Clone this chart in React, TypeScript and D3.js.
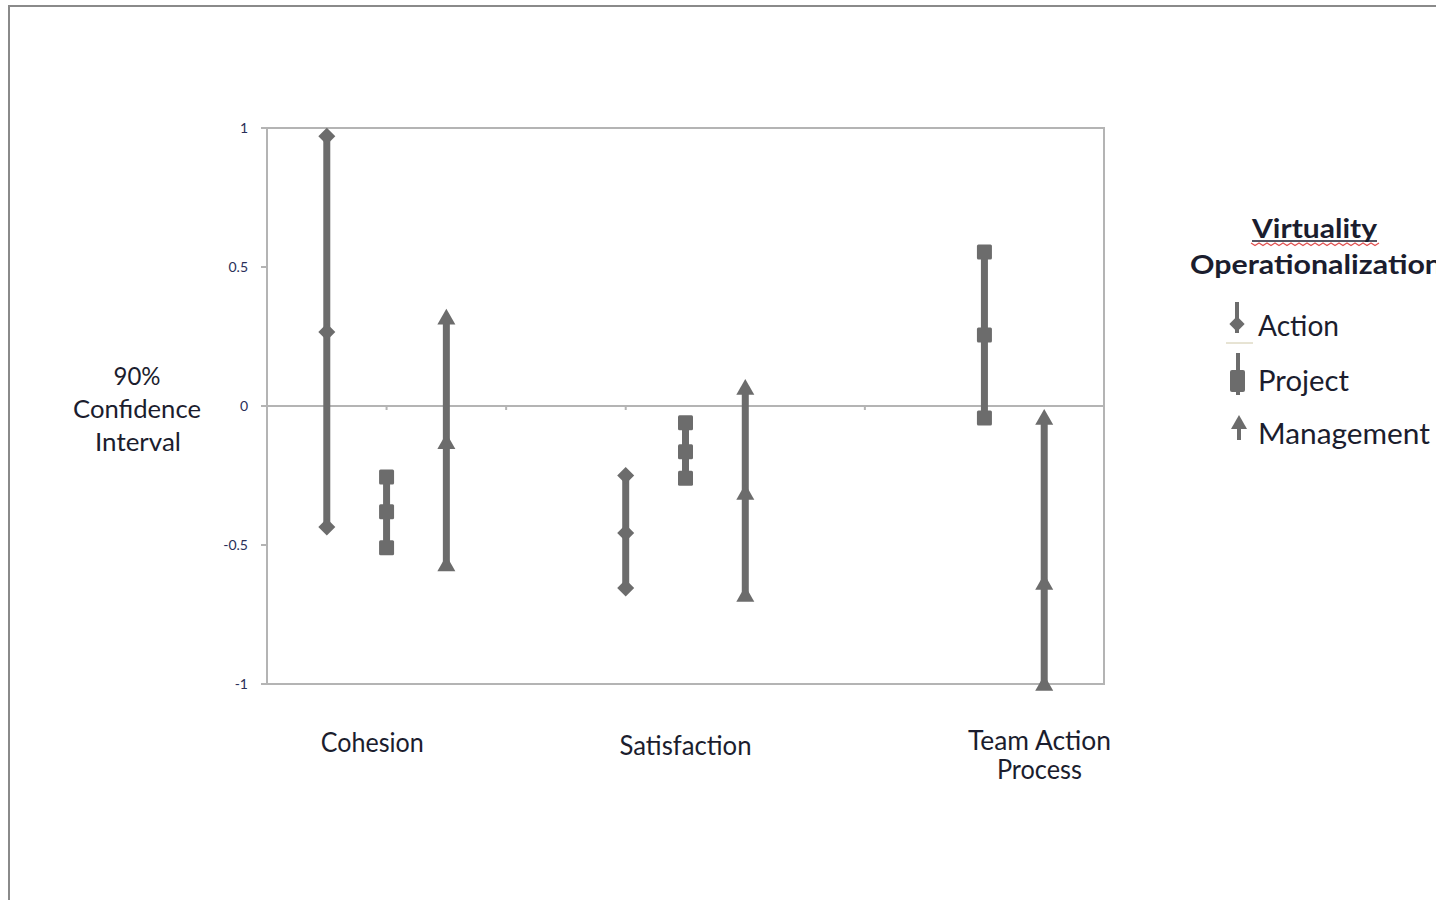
import React from "react";
import * as d3 from "d3";

// Confidence intervals by outcome and virtuality operationalization
const categories = ["Cohesion", "Satisfaction", "Team Action Process"];
const categoryLabelX = [0.88, 3.5, 6.46];
const seriesNames = ["Action", "Project", "Management"];

const actionX = [0.5, 3.0];
const actionLow = [-0.435, -0.655];
const actionMid = [0.266, -0.457];
const actionHigh = [0.97, -0.25];

const projectX = [1.0, 3.5, 6.0];
const projectLow = [-0.51, -0.26, -0.043];
const projectMid = [-0.38, -0.165, 0.255];
const projectHigh = [-0.255, -0.06, 0.554];

const managementX = [1.5, 4.0, 6.5];
const managementLow = [-0.57, -0.68, -1.0];
const managementMid = [-0.13, -0.313, -0.637];
const managementHigh = [0.317, 0.065, -0.043];

const yTicks = [1, 0.5, 0, -0.5, -1];
const yTickLabels = ["1", "0.5", "0", "-0.5", "-1"];
const xTicks = [1, 2, 3, 4, 5, 6];

const W = 1436;
const H = 900;
const plot = { left: 267, right: 1104, top: 128, bottom: 684 };
const markColor = "#6c6c6c";
const textColor = "#1b1d2e";
const font = "Lato, 'Open Sans', sans-serif";

type Shape = "diamond" | "square" | "triangle";

function Marker({ x, y, shape, s = 1 }: { x: number; y: number; shape: Shape; s?: number }) {
  if (shape === "diamond") {
    const r = 8.5 * s;
    return <path d={`M${x},${y - r}L${x + r},${y}L${x},${y + r}L${x - r},${y}Z`} fill={markColor} />;
  }
  if (shape === "square") {
    const r = 7.5 * s;
    return <rect x={x - r} y={y - r} width={2 * r} height={2 * r} rx={1.5} fill={markColor} />;
  }
  const r = 9 * s;
  return <path d={`M${x},${y - r}L${x + r},${y + r * 0.75}L${x - r},${y + r * 0.75}Z`} fill={markColor} />;
}

// Text stretched to a set width
function Label({
  x,
  y,
  w,
  size,
  anchor = "middle",
  bold = false,
  children,
}: {
  x: number;
  y: number;
  w: number;
  size: number;
  anchor?: "start" | "middle" | "end";
  bold?: boolean;
  children: string;
}) {
  return (
    <text
      x={x}
      y={y}
      textAnchor={anchor}
      fontFamily={font}
      fontSize={size}
      fontWeight={bold ? "bold" : "normal"}
      fill={textColor}
      textLength={w}
      lengthAdjust="spacingAndGlyphs"
    >
      {children}
    </text>
  );
}

export default function App() {
  const x = d3.scaleLinear().domain([0, 7]).range([plot.left, plot.right]);
  const y = d3.scaleLinear().domain([-1, 1]).range([plot.bottom, plot.top]);

  const series = [
    { name: seriesNames[0], shape: "diamond" as Shape, xs: actionX, lo: actionLow, mid: actionMid, hi: actionHigh },
    { name: seriesNames[1], shape: "square" as Shape, xs: projectX, lo: projectLow, mid: projectMid, hi: projectHigh },
    { name: seriesNames[2], shape: "triangle" as Shape, xs: managementX, lo: managementLow, mid: managementMid, hi: managementHigh },
  ];

  const wavy = d3.range(0, 33).map((i) => [1251 + i * 4, 243 + (i % 2 === 0 ? 0 : 2.5)] as [number, number]);

  return (
    <svg
      width={W}
      height={H}
      style={{ position: "absolute", left: 0, top: 0, display: "block", background: "#fff" }}
    >
      {/* outer frame */}
      <line x1={8} y1={6} x2={W} y2={6} stroke="#8a8a8a" strokeWidth={2} />
      <line x1={9} y1={5} x2={9} y2={H} stroke="#8a8a8a" strokeWidth={2} />

      {/* plot frame */}
      <rect
        x={plot.left}
        y={plot.top}
        width={plot.right - plot.left}
        height={plot.bottom - plot.top}
        fill="none"
        stroke="#b4b4b4"
        strokeWidth={2}
      />

      {/* zero line and its ticks */}
      <line x1={plot.left} x2={plot.right} y1={y(0)} y2={y(0)} stroke="#b4b4b4" strokeWidth={2} />
      {xTicks.map((t) => (
        <line key={t} x1={x(t)} x2={x(t)} y1={y(0)} y2={y(0) + 4} stroke="#b4b4b4" strokeWidth={2} />
      ))}

      {/* y axis ticks */}
      {yTicks.map((t, i) => (
        <g key={t}>
          <line x1={plot.left - 6} x2={plot.left} y1={y(t)} y2={y(t)} stroke="#b4b4b4" strokeWidth={2} />
          <text
            x={plot.left - 19}
            y={y(t)}
            dy="0.36em"
            textAnchor="end"
            fontFamily={font}
            fontSize={14}
            fill="#2a2f58"
          >
            {yTickLabels[i]}
          </text>
        </g>
      ))}

      {/* y axis title */}
      <Label x={137} y={385} w={47} size={25}>90%</Label>
      <Label x={137} y={418} w={128} size={25}>Confidence</Label>
      <Label x={138} y={451} w={86} size={25}>Interval</Label>

      {/* category labels */}
      <Label x={x(categoryLabelX[0])} y={752} w={103} size={26}>{categories[0]}</Label>
      <Label x={x(categoryLabelX[1])} y={755} w={132} size={26}>{categories[1]}</Label>
      <Label x={x(categoryLabelX[2])} y={750} w={143} size={26}>Team Action</Label>
      <Label x={x(categoryLabelX[2])} y={779} w={85} size={26}>Process</Label>

      {/* intervals */}
      {series.map((s) =>
        s.xs.map((xv, i) => (
          <g key={s.name + i}>
            <line x1={x(xv)} x2={x(xv)} y1={y(s.lo[i])} y2={y(s.hi[i])} stroke={markColor} strokeWidth={7} />
            <Marker x={x(xv)} y={y(s.lo[i])} shape={s.shape} />
            <Marker x={x(xv)} y={y(s.mid[i])} shape={s.shape} />
            <Marker x={x(xv)} y={y(s.hi[i])} shape={s.shape} />
          </g>
        ))
      )}

      {/* legend */}
      <Label x={1252} y={238} w={125} size={27} anchor="start" bold>Virtuality</Label>
      <line x1={1252} x2={1377} y1={241} y2={241} stroke={textColor} strokeWidth={1.5} />
      <path d={d3.line()(wavy) ?? ""} fill="none" stroke="#e05050" strokeWidth={1.2} />
      <Label x={1190} y={274} w={252} size={26} anchor="start" bold>Operationalization</Label>

      {/* Action */}
      <line x1={1237} x2={1237} y1={302} y2={333} stroke={markColor} strokeWidth={4} />
      <Marker x={1237} y={324} shape="diamond" s={0.9} />
      <line x1={1226} x2={1253} y1={343} y2={343} stroke="#cfc8a8" strokeWidth={1} />
      <Label x={1258} y={336} w={81} size={28} anchor="start">{seriesNames[0]}</Label>

      {/* Project */}
      <line x1={1238} x2={1238} y1={353} y2={395} stroke={markColor} strokeWidth={4} />
      <rect x={1230} y={370} width={15} height={22} rx={2} fill={markColor} />
      <Label x={1258} y={391} w={91} size={28} anchor="start">{seriesNames[1]}</Label>

      {/* Management */}
      <line x1={1239} x2={1239} y1={420} y2={440} stroke={markColor} strokeWidth={4} />
      <path d="M1239,415L1247,429L1231,429Z" fill={markColor} />
      <Label x={1258} y={444} w={172} size={28} anchor="start">{seriesNames[2]}</Label>
    </svg>
  );
}
